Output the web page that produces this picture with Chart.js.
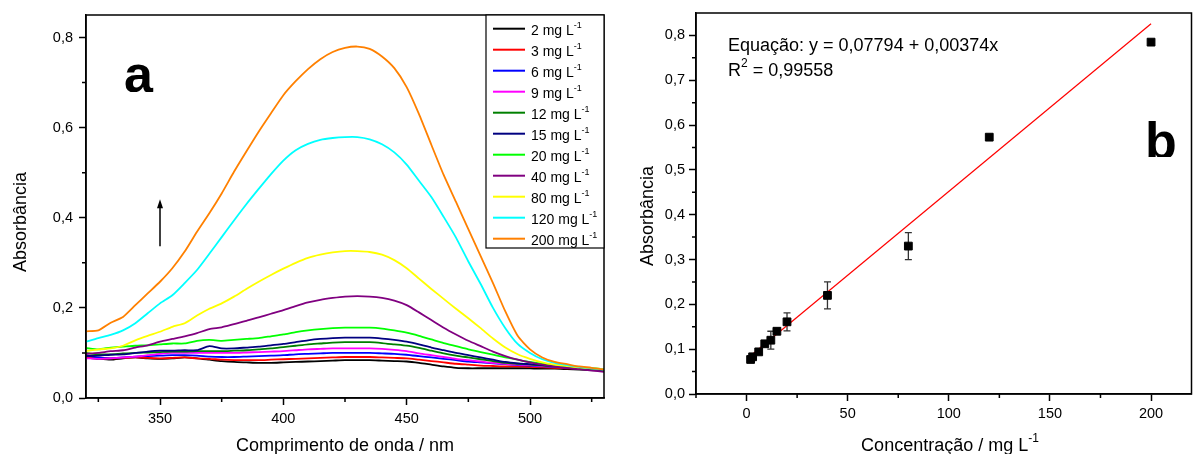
<!DOCTYPE html>
<html lang="pt">
<head>
<meta charset="utf-8">
<script src="https://cdn.jsdelivr.net/npm/chart.js@4.4.1/dist/chart.umd.min.js"></script>
<style>
  html, body { margin: 0; padding: 0; background: #fff; overflow: hidden; }
  #painel { position: relative; width: 1197px; height: 454px; overflow: hidden; }
  canvas { position: absolute; top: 0; }
  #graficoA { left: 0; }
  #graficoB { left: 620px; }
</style>
</head>
<body>
<div id="painel">
  <canvas id="graficoA" width="615" height="454"></canvas>
  <canvas id="graficoB" width="578" height="454"></canvas>
</div>
<script>
/* ==========================================================================
   DADOS - PAINEL (a): ESPECTROS DE ABSORCAO
   ========================================================================== */
const comprimentosOnda = [320, 325, 330, 335, 340, 345, 350, 355, 360, 365, 370, 375, 380, 385, 390,
    395, 400, 405, 410, 415, 420, 425, 430, 435, 440, 445, 450, 455, 460, 465, 470, 475, 480, 485,
    490, 495, 500, 505, 510, 515, 520, 525, 530];

const rotulosConc = ['2', '3', '6', '9', '12', '15', '20', '40', '80', '120', '200'];

const abs2mg = [0.090, 0.087, 0.085, 0.088, 0.090, 0.088, 0.087, 0.088, 0.090, 0.088, 0.085, 0.082, 0.080, 0.079, 0.078,
    0.078, 0.079, 0.080, 0.081, 0.082, 0.083, 0.084, 0.084, 0.084, 0.083, 0.082, 0.081, 0.078, 0.074, 0.070,
    0.067, 0.066, 0.066, 0.066, 0.066, 0.066, 0.066, 0.065, 0.065, 0.064, 0.063, 0.062, 0.061];
const abs3mg = [0.090, 0.089, 0.088, 0.089, 0.090, 0.089, 0.088, 0.089, 0.090, 0.088, 0.087, 0.085, 0.084, 0.084, 0.084,
    0.085, 0.086, 0.087, 0.088, 0.089, 0.090, 0.091, 0.091, 0.091, 0.090, 0.089, 0.088, 0.085, 0.082, 0.079,
    0.076, 0.074, 0.072, 0.071, 0.070, 0.070, 0.069, 0.068, 0.067, 0.066, 0.065, 0.063, 0.061];
const abs6mg = [0.095, 0.090, 0.088, 0.090, 0.092, 0.093, 0.094, 0.095, 0.095, 0.094, 0.092, 0.091, 0.091, 0.092, 0.093,
    0.094, 0.095, 0.097, 0.098, 0.099, 0.100, 0.100, 0.100, 0.100, 0.099, 0.098, 0.096, 0.093, 0.090, 0.087,
    0.084, 0.081, 0.079, 0.077, 0.075, 0.073, 0.072, 0.070, 0.069, 0.067, 0.065, 0.063, 0.061];
const abs9mg = [0.088, 0.087, 0.088, 0.090, 0.092, 0.095, 0.098, 0.100, 0.100, 0.100, 0.100, 0.100, 0.100, 0.101, 0.102,
    0.103, 0.104, 0.106, 0.108, 0.109, 0.110, 0.110, 0.110, 0.110, 0.109, 0.107, 0.104, 0.099, 0.095, 0.091,
    0.087, 0.084, 0.081, 0.078, 0.076, 0.074, 0.073, 0.071, 0.070, 0.068, 0.066, 0.064, 0.062];
const abs12mg = [0.100, 0.097, 0.097, 0.099, 0.100, 0.101, 0.102, 0.103, 0.103, 0.104, 0.104, 0.104, 0.105, 0.106, 0.108,
    0.110, 0.113, 0.116, 0.119, 0.121, 0.123, 0.124, 0.124, 0.124, 0.122, 0.119, 0.116, 0.111, 0.105, 0.099,
    0.094, 0.090, 0.086, 0.082, 0.078, 0.076, 0.074, 0.072, 0.070, 0.068, 0.066, 0.064, 0.062];
const abs15mg = [0.093, 0.094, 0.096, 0.097, 0.100, 0.103, 0.105, 0.105, 0.106, 0.106, 0.115, 0.110, 0.110, 0.112, 0.114,
    0.117, 0.120, 0.124, 0.128, 0.131, 0.133, 0.134, 0.134, 0.134, 0.132, 0.129, 0.125, 0.119, 0.112, 0.106,
    0.100, 0.095, 0.090, 0.085, 0.080, 0.077, 0.075, 0.073, 0.071, 0.069, 0.067, 0.065, 0.063];
const abs20mg = [0.111, 0.108, 0.112, 0.114, 0.116, 0.117, 0.119, 0.121, 0.121, 0.127, 0.129, 0.127, 0.129, 0.131, 0.133,
    0.137, 0.141, 0.146, 0.150, 0.153, 0.155, 0.156, 0.156, 0.156, 0.154, 0.150, 0.145, 0.138, 0.130, 0.122,
    0.115, 0.108, 0.102, 0.096, 0.090, 0.085, 0.080, 0.076, 0.073, 0.070, 0.068, 0.066, 0.064];
const abs40mg = [0.098, 0.100, 0.104, 0.106, 0.112, 0.117, 0.125, 0.131, 0.137, 0.144, 0.153, 0.157, 0.164, 0.171, 0.179,
    0.187, 0.195, 0.204, 0.212, 0.218, 0.222, 0.225, 0.226, 0.225, 0.222, 0.216, 0.206, 0.190, 0.173, 0.156,
    0.141, 0.127, 0.115, 0.103, 0.093, 0.085, 0.079, 0.074, 0.070, 0.067, 0.064, 0.061, 0.058];
const abs80mg = [0.104, 0.108, 0.110, 0.116, 0.128, 0.138, 0.147, 0.158, 0.166, 0.183, 0.198, 0.210, 0.225, 0.242, 0.258,
    0.273, 0.287, 0.300, 0.311, 0.318, 0.323, 0.326, 0.326, 0.324, 0.318, 0.306, 0.288, 0.265, 0.242, 0.220,
    0.198, 0.177, 0.155, 0.132, 0.112, 0.097, 0.087, 0.079, 0.074, 0.071, 0.068, 0.066, 0.064];
const abs120mg = [0.125, 0.133, 0.140, 0.150, 0.166, 0.188, 0.210, 0.228, 0.255, 0.284, 0.320, 0.357, 0.394, 0.430, 0.464,
    0.497, 0.527, 0.550, 0.564, 0.573, 0.577, 0.579, 0.579, 0.574, 0.563, 0.545, 0.518, 0.482, 0.446, 0.402,
    0.356, 0.303, 0.253, 0.200, 0.155, 0.120, 0.100, 0.086, 0.078, 0.073, 0.069, 0.066, 0.063];
const abs200mg = [0.148, 0.150, 0.167, 0.180, 0.206, 0.232, 0.258, 0.288, 0.325, 0.369, 0.410, 0.454, 0.502, 0.547, 0.591,
    0.632, 0.672, 0.703, 0.730, 0.752, 0.768, 0.777, 0.780, 0.775, 0.758, 0.732, 0.690, 0.630, 0.562, 0.495,
    0.435, 0.375, 0.315, 0.255, 0.192, 0.138, 0.108, 0.090, 0.080, 0.075, 0.070, 0.067, 0.063];

const seriesEspectros = [abs2mg, abs3mg, abs6mg, abs9mg, abs12mg, abs15mg, abs20mg, abs40mg, abs80mg, abs120mg, abs200mg];
const coresSerie = ['#000000', '#ff0000', '#0000ff', '#ff00ff', '#008000', '#000080',
    '#00ff00', '#800080', '#ffff00', '#00ffff', '#ff8000'];

const marcasXa = [350, 400, 450, 500];
const rotulosXa = ['350', '400', '450', '500'];
const menoresXa = [325, 375, 425, 475, 525];
const marcasYa = [0, 0.2, 0.4, 0.6, 0.8];
const rotulosYa = ['0,0', '0,2', '0,4', '0,6', '0,8'];
const menoresYa = [0.1, 0.3, 0.5, 0.7];

const setaComprimento = 350;
const setaAbs = [0.337, 0.441];

/* ==========================================================================
   DADOS - PAINEL (b): CURVA ANALITICA
   ========================================================================== */
const concentracoes = [2, 3, 6, 9, 12, 15, 20, 40, 80, 120, 200];
const absorbancias = [0.077, 0.083, 0.094, 0.112, 0.120, 0.140, 0.161, 0.220, 0.330, 0.573, 0.785];
const desvios = [0, 0, 0, 0, 0.020, 0, 0.020, 0.030, 0.030, 0, 0];

const ajusteX = [2, 200];
const ajusteY = [0.0854, 0.8259];

const marcasXb = [0, 50, 100, 150, 200];
const rotulosXb = ['0', '50', '100', '150', '200'];
const menoresXb = [-25, 25, 75, 125, 175];
const marcasYb = [0, 0.1, 0.2, 0.3, 0.4, 0.5, 0.6, 0.7, 0.8];
const rotulosYb = ['0,0', '0,1', '0,2', '0,3', '0,4', '0,5', '0,6', '0,7', '0,8'];
const menoresYb = [0.05, 0.15, 0.25, 0.35, 0.45, 0.55, 0.65, 0.75];

/* ==========================================================================
   FUNCOES AUXILIARES DE DESENHO
   ========================================================================== */
const FONTE = 'Arial, "Liberation Sans", sans-serif';
Chart.defaults.font.family = FONTE;
Chart.defaults.color = '#000';

function desenharMoldura(chart) {
    const { ctx, chartArea: a } = chart;
    ctx.save();
    ctx.strokeStyle = '#000';
    ctx.lineWidth = 1.5;
    ctx.strokeRect(a.left, a.top, a.right - a.left, a.bottom - a.top);
    ctx.restore();
}

function desenharMenores(chart, menoresX, menoresY) {
    const { ctx, scales: { x, y } } = chart;
    ctx.save();
    ctx.strokeStyle = '#000';
    ctx.lineWidth = 1.5;
    ctx.beginPath();
    menoresX.forEach(v => {
        const px = x.getPixelForValue(v);
        ctx.moveTo(px, y.bottom);
        ctx.lineTo(px, y.bottom + 4);
    });
    menoresY.forEach(v => {
        const py = y.getPixelForValue(v);
        ctx.moveTo(x.left, py);
        ctx.lineTo(x.left - 4, py);
    });
    ctx.stroke();
    ctx.restore();
}

// texto com trechos sobrescritos: pedacos = [[texto, sobrescrito?], ...]
function escreverComposto(ctx, pedacos, x, y, tam, alinhar) {
    const tamSup = Math.round(tam * 0.64);
    let largura = 0;
    pedacos.forEach(([t, sup]) => {
        ctx.font = `${sup ? tamSup : tam}px ${FONTE}`;
        largura += ctx.measureText(t).width;
    });
    let cx = alinhar === 'center' ? x - largura / 2 : x;
    ctx.textAlign = 'left';
    ctx.textBaseline = 'alphabetic';
    pedacos.forEach(([t, sup]) => {
        ctx.font = `${sup ? tamSup : tam}px ${FONTE}`;
        ctx.fillText(t, cx, sup ? y - tam * 0.5 : y);
        cx += ctx.measureText(t).width;
    });
}

function tituloVertical(ctx, texto, x, y, tam) {
    ctx.save();
    ctx.translate(x, y);
    ctx.rotate(-Math.PI / 2);
    ctx.font = `${tam}px ${FONTE}`;
    ctx.fillStyle = '#000';
    ctx.textAlign = 'center';
    ctx.textBaseline = 'alphabetic';
    ctx.fillText(texto, 0, 0);
    ctx.restore();
}

function letraCortada(ctx, letra, x, base, corte) {
    ctx.save();
    ctx.beginPath();
    ctx.rect(x - 10, 0, 90, corte);
    ctx.clip();
    ctx.font = `bold 52px ${FONTE}`;
    ctx.fillStyle = '#000';
    ctx.textAlign = 'left';
    ctx.textBaseline = 'alphabetic';
    ctx.fillText(letra, x, base);
    ctx.restore();
}

function eixo(min, max, marcas, rotulos, tamanho, horizontal, pad) {
    return {
        type: 'linear',
        min: min,
        max: max,
        afterFit: (s) => { if (horizontal) s.height = tamanho; else s.width = tamanho; },
        afterBuildTicks: (s) => { s.ticks = marcas.map(v => ({ value: v })); },
        ticks: {
            callback: (v, i) => rotulos[i],
            font: { size: 14.5 },
            color: '#000',
            padding: pad,
            maxRotation: 0,
            autoSkip: false
        },
        grid: { display: true, drawOnChartArea: false, drawTicks: true, tickLength: 7, tickColor: '#000', tickWidth: 1.5 },
        border: { display: true, color: '#000', width: 1.5 },
        title: { display: false }
    };
}

/* ==========================================================================
   PAINEL (a)
   ========================================================================== */
const extrasA = {
    id: 'extrasA',
    afterDraw(chart) {
        const { ctx, chartArea: area, scales: { x, y } } = chart;
        desenharMoldura(chart);
        desenharMenores(chart, menoresXa, menoresYa);

        // seta indicando o aumento da concentracao
        const sx = x.getPixelForValue(setaComprimento);
        const sy0 = y.getPixelForValue(setaAbs[0]);
        const sy1 = y.getPixelForValue(setaAbs[1]);
        ctx.save();
        ctx.strokeStyle = '#000';
        ctx.fillStyle = '#000';
        ctx.lineWidth = 1.5;
        ctx.beginPath();
        ctx.moveTo(sx, sy0);
        ctx.lineTo(sx, sy1 + 6);
        ctx.stroke();
        ctx.beginPath();
        ctx.moveTo(sx, sy1);
        ctx.lineTo(sx - 3, sy1 + 9);
        ctx.lineTo(sx + 3, sy1 + 9);
        ctx.closePath();
        ctx.fill();
        ctx.restore();

        letraCortada(ctx, 'a', 124, 92, 92);

        // legenda
        const lx0 = 486, ly0 = area.top, ly1 = 248;
        ctx.save();
        ctx.fillStyle = '#fff';
        ctx.fillRect(lx0, ly0, area.right - lx0, ly1 - ly0);
        ctx.strokeStyle = '#000';
        ctx.lineWidth = 1.2;
        ctx.strokeRect(lx0, ly0, area.right - lx0, ly1 - ly0);
        rotulosConc.forEach((r, i) => {
            const yl = 28.7 + 21 * i;
            ctx.strokeStyle = coresSerie[i];
            ctx.lineWidth = 2;
            ctx.beginPath();
            ctx.moveTo(493, yl);
            ctx.lineTo(525, yl);
            ctx.stroke();
            ctx.fillStyle = '#000';
            escreverComposto(ctx, [[r + ' mg L', false], ['-1', true]], 531, yl + 6, 14, 'left');
        });
        ctx.restore();

        // titulos dos eixos
        ctx.save();
        ctx.fillStyle = '#000';
        escreverComposto(ctx, [['Comprimento de onda / nm', false]], (area.left + area.right) / 2, 450.5, 18, 'center');
        ctx.restore();
        tituloVertical(ctx, 'Absorbância', 26, 222, 18);
    }
};

new Chart(document.getElementById('graficoA'), {
    type: 'line',
    data: {
        datasets: seriesEspectros.map((serie, i) => ({
            label: rotulosConc[i] + ' mg L-1',
            data: serie.map((v, k) => ({ x: comprimentosOnda[k], y: v })),
            borderColor: coresSerie[i],
            backgroundColor: coresSerie[i],
            borderWidth: 1.8,
            pointRadius: 0,
            tension: 0.2,
            order: seriesEspectros.length - i
        }))
    },
    options: {
        responsive: false,
        animation: false,
        layout: { padding: { left: 0, top: 15, right: 11, bottom: 0 } },
        plugins: { legend: { display: false }, tooltip: { enabled: false } },
        scales: {
            x: eixo(320, 530, marcasXa, rotulosXa, 56, true, 5),
            y: eixo(0, 0.85, marcasYa, rotulosYa, 86, false, 6)
        }
    },
    plugins: [extrasA]
});

/* ==========================================================================
   PAINEL (b)
   ========================================================================== */
const extrasB = {
    id: 'extrasB',
    beforeDatasetsDraw(chart) {
        const { ctx, scales: { x, y } } = chart;
        ctx.save();
        ctx.strokeStyle = '#333';
        ctx.lineWidth = 1.3;
        ctx.beginPath();
        concentracoes.forEach((c, i) => {
            if (!desvios[i]) return;
            const px = x.getPixelForValue(c);
            const pa = y.getPixelForValue(absorbancias[i] + desvios[i]);
            const pb = y.getPixelForValue(absorbancias[i] - desvios[i]);
            ctx.moveTo(px, pa); ctx.lineTo(px, pb);
            ctx.moveTo(px - 3.5, pa); ctx.lineTo(px + 3.5, pa);
            ctx.moveTo(px - 3.5, pb); ctx.lineTo(px + 3.5, pb);
        });
        ctx.stroke();
        ctx.restore();
    },
    afterDraw(chart) {
        const { ctx } = chart;
        desenharMoldura(chart);
        desenharMenores(chart, menoresXb, menoresYb);

        ctx.save();
        ctx.fillStyle = '#000';
        escreverComposto(ctx, [['Equação: y = 0,07794 + 0,00374x', false]], 108, 51, 18, 'left');
        escreverComposto(ctx, [['R', false], ['2', true], [' = 0,99558', false]], 108, 76, 18, 'left');
        escreverComposto(ctx, [['Concentração / mg L', false], ['-1', true]], 330, 450.5, 18, 'center');
        ctx.restore();
        tituloVertical(ctx, 'Absorbância', 32.5, 216, 18);

        letraCortada(ctx, 'b', 525, 159, 157);
    }
};

new Chart(document.getElementById('graficoB'), {
    type: 'scatter',
    data: {
        datasets: [
            {
                label: 'Absorbância',
                data: concentracoes.map((c, i) => ({ x: c, y: absorbancias[i] })),
                pointStyle: 'rect',
                pointRadius: 5.5,
                backgroundColor: '#000',
                borderColor: '#000',
                borderWidth: 1,
                showLine: false,
                order: 0
            },
            {
                type: 'line',
                label: 'Ajuste linear',
                data: ajusteX.map((c, i) => ({ x: c, y: ajusteY[i] })),
                borderColor: '#ff0000',
                borderWidth: 1.2,
                pointRadius: 0,
                fill: false,
                order: 1
            }
        ]
    },
    options: {
        responsive: false,
        animation: false,
        layout: { padding: { left: 0, top: 13, right: 0, bottom: 0 } },
        plugins: { legend: { display: false }, tooltip: { enabled: false } },
        scales: {
            x: eixo(-25, 220, marcasXb, rotulosXb, 60, true, 4),
            y: eixo(0, 0.85, marcasYb, rotulosYb, 76, false, 4)
        }
    },
    plugins: [extrasB]
});
</script>
</body>
</html>
